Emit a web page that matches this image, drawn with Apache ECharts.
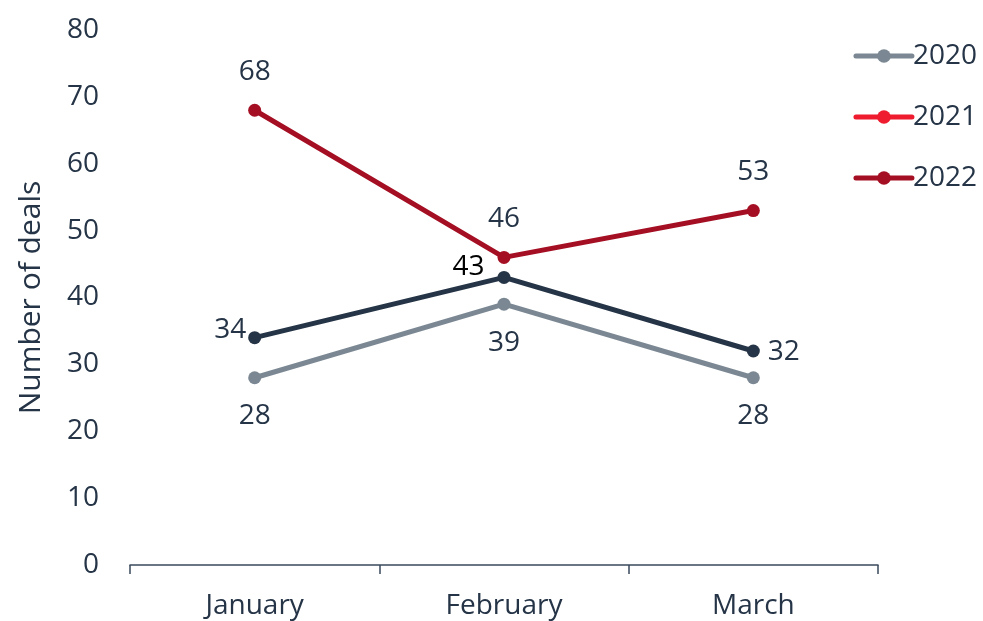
<!DOCTYPE html>
<html><head><meta charset="utf-8">
<script src="https://cdn.jsdelivr.net/npm/echarts@6/dist/echarts.min.js"></script>
<style>html,body{margin:0;padding:0;background:#fff}#c{width:983px;height:621px}</style>
</head><body><div id="c"></div>
<script>
const categories = ['January', 'February', 'March'];
const seriesNames = ['2020', '2021', '2022'];
const values2020 = [28, 39, 28];
const values2021 = [34, 43, 32];
const values2022 = [68, 46, 53];
const yTicks = [0, 10, 20, 30, 40, 50, 60, 70, 80];

const FONT = 'Open Sans';
const TXT = '#253446';
const chart = echarts.init(document.getElementById('c'));

function withLabels(vals, labels) {
  return vals.map((v, i) => ({ value: v, label: labels[i] }));
}
const lbl = { show: true, fontFamily: FONT, fontSize: 28, color: TXT };

chart.setOption({
  animation: false,
  grid: { left: 130, right: 105, top: 30, bottom: 56, containLabel: false },
  legend: {
    orient: 'vertical', right: 1, top: 37, itemGap: 33,
    itemWidth: 56, itemHeight: 17,
    textStyle: { fontFamily: FONT, fontSize: 28, color: TXT, padding: [0, 0, 0, -4] },
    data: [
      { name: seriesNames[0], lineStyle: { width: 5, cap: 'round' } },
      { name: seriesNames[1], itemStyle: { color: '#ee1c2e' }, lineStyle: { color: '#ee1c2e', width: 5, cap: 'round' } },
      { name: seriesNames[2], lineStyle: { width: 5, cap: 'round' } }
    ]
  },
  xAxis: {
    type: 'category', data: categories, boundaryGap: true,
    axisLine: { lineStyle: { color: '#3b4a5c', width: 1.5 } },
    axisTick: { show: true, length: 9, lineStyle: { color: '#3b4a5c', width: 1.5 } },
    axisLabel: { fontFamily: FONT, fontSize: 28, color: TXT, margin: 27 }
  },
  yAxis: {
    type: 'value', min: yTicks[0], max: yTicks[yTicks.length - 1], interval: 10,
    name: 'Number of deals', nameLocation: 'middle', nameGap: 84, nameRotate: 90,
    nameTextStyle: { fontFamily: FONT, fontSize: 30, color: TXT },
    axisLine: { show: false }, axisTick: { show: false }, splitLine: { show: false },
    axisLabel: { fontFamily: FONT, fontSize: 28, color: TXT, margin: 31 }
  },
  series: [
    {
      name: seriesNames[0], type: 'line', symbol: 'circle', symbolSize: 13,
      color: '#7b8893', lineStyle: { width: 5, color: '#7b8893' },
      label: Object.assign({}, lbl, { position: 'bottom', distance: 18 }),
      data: values2020, z: 2
    },
    {
      name: seriesNames[1], type: 'line', symbol: 'circle', symbolSize: 13,
      color: '#253446', lineStyle: { width: 5, color: '#253446' },
      label: lbl,
      data: withLabels(values2021, [
        { position: 'left', distance: 2, offset: [0, -8] },
        { position: 'left', distance: 13, offset: [0, -10], color: '#000' },
        { position: 'right', distance: 8, offset: [0, 1] }
      ]), z: 3
    },
    {
      name: seriesNames[2], type: 'line', symbol: 'circle', symbolSize: 13,
      color: '#a50f23', lineStyle: { width: 5, color: '#a50f23' },
      label: Object.assign({}, lbl, { position: 'top', distance: 18 }),
      data: values2022, z: 4
    }
  ]
});
</script></body></html>
